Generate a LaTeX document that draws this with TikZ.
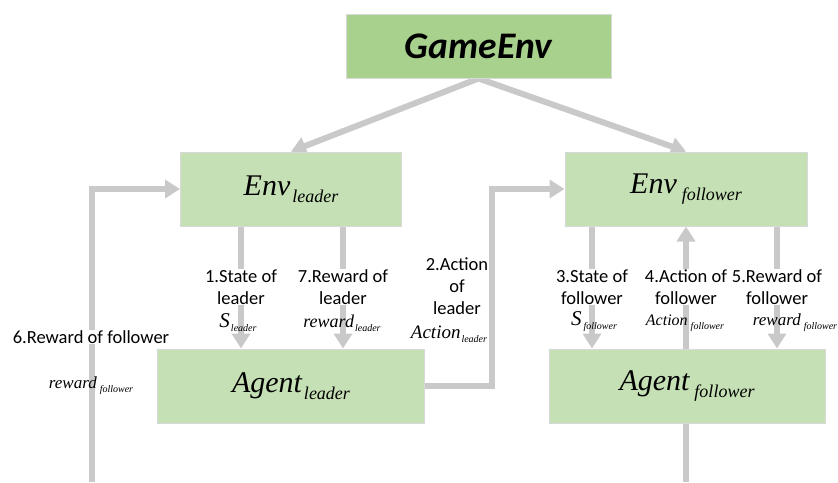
\documentclass[tikz,border=0pt]{standalone}
\usepackage{fontspec}
\setmainfont{Carlito}
\newfontfamily\tnr{Liberation Serif}
\usetikzlibrary{arrows.meta, positioning}
\pgfdeclarelayer{bg}
\pgfsetlayers{bg,main}
\definecolor{gamegreen}{HTML}{A9D18E}
\definecolor{boxgreen}{HTML}{C5E0B4}
\definecolor{flowgray}{HTML}{C9C9C9}
\definecolor{edgegray}{HTML}{D9D9D9}

% big name with lowered index
\newcommand{\bname}[3]{{\tnr\itshape\fontsize{30}{30}\selectfont #1}\hspace{#3}\raisebox{-7pt}{\tnr\itshape\fontsize{18}{18}\selectfont #2}}
% small symbol with lowered index
\newcommand{\sname}[4]{{\tnr\itshape\fontsize{#3}{#3}\selectfont #1}\hspace{#4}\raisebox{-4pt}{\tnr\itshape\fontsize{10}{10}\selectfont #2}}

\tikzset{
  box/.style={draw=edgegray, line width=1pt, fill=boxgreen, minimum height=74pt, inner sep=0pt},
  gamebox/.style={box, fill=gamegreen, minimum width=265pt, minimum height=64pt,
    font=\fontsize{37.5}{37.5}\selectfont\bfseries\itshape},
  flow/.style={draw=flowgray, line width=6pt, line join=miter, -{Triangle[width=18pt,length=15pt]}},
  flowline/.style={draw=flowgray, line width=6pt},
  lab/.style={fill=white, inner sep=1pt, align=center, font=\fontsize{18.5}{22}\selectfont},
  mlab/.style={inner sep=0pt, anchor=base}
}

\begin{document}
\begin{tikzpicture}[x=1pt,y=-1pt]
\useasboundingbox (0,0) rectangle (838,482);

% boxes
\node[gamebox] (game) at (478.5,46) {GameEnv};
\node[box, minimum width=221pt] (envL) at (291,189) {\bname{Env}{leader}{2pt}};
\node[box, minimum width=242pt] (envF) at (686,189) {\bname{Env}{follower}{5pt}};
\node[box, minimum width=267pt] (agentL) at (291,386) {\bname{Agent}{leader}{2pt}};
\node[box, minimum width=276pt] (agentF) at (687,386) {\bname{Agent}{follower}{5pt}};

% step labels
\node[lab] (l1) at (241,287) {1.State of\\leader};
\node[lab] (l7) at (343,287) {7.Reward of\\leader};
\node[lab, fill=none] (l2) at (457,286) {2.Action\\of\\leader};
\node[lab] (l3) at (592,287) {3.State of\\follower};
\node[lab] (l4) at (686,287) {4.Action of\\follower};
\node[lab] (l5) at (777,287) {5.Reward of\\follower};
\node[lab] (l6) at (91,337) {6.Reward of follower};

% symbols
\node[mlab] (m1) at (238,327) {\sname{S}{leader}{21}{1pt}};
\node[mlab] (m7) at (342,327) {\sname{reward}{leader}{18}{1pt}};
\node[mlab] (m2) at (449,338) {\sname{Action}{leader}{19}{1pt}};
\node[mlab] (m6) at (91,388) {\sname{reward}{follower}{17}{3pt}};
\node[mlab] (m3) at (594,325) {\sname{S}{follower}{21}{2pt}};
\node[mlab] (m4) at (685,325) {\sname{Action}{follower}{16}{3pt}};
\node[mlab] (m5) at (795,325) {\sname{reward}{follower}{17}{3pt}};

\coordinate (inL) at (92,482);
\coordinate (outF) at (687,482);
\coordinate (bend) at (492,300);

% connectors
\begin{pgfonlayer}{bg}
\draw[flow] (game.south) -- (envL.north);
\draw[flow] (game.south) -- (envF.north);
\draw[flow] (l1 |- envL.south) -- (l1 |- agentL.north);
\draw[flow] (l7 |- envL.south) -- (l7 |- agentL.north);
\draw[flow] (agentL.east) -| (bend) |- (envF.west);
\draw[flow] (l3 |- envF.south) -- (l3 |- agentF.north);
\draw[flow] (l4 |- agentF.north) -- (l4 |- envF.south);
\draw[flow] (l5 |- envF.south) -- (l5 |- agentF.north);
\draw[flowline] (l4 |- agentF.south) -- (l4 |- outF);
\draw[flow] (inL) |- (envL.west);
\end{pgfonlayer}
\end{tikzpicture}
\end{document}
